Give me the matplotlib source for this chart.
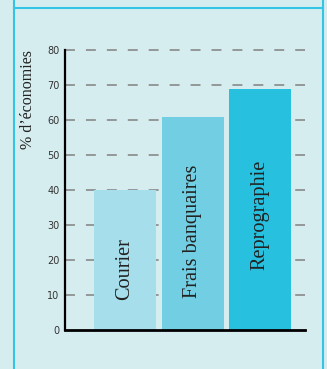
import matplotlib
matplotlib.use("Agg")
import matplotlib.pyplot as plt
from matplotlib.lines import Line2D

# data
categories = ["Courier", "Frais banquaires", "Reprographie"]
savings = [40, 61, 69]
bar_colors = ["#a6deec", "#72cfe3", "#27c0de"]
yticks = [0, 10, 20, 30, 40, 50, 60, 70, 80]

bg = "#d6edf0"
edge = "#33c6e4"

fig = plt.figure(figsize=(3.27, 3.69), dpi=100, facecolor=bg)
ax = fig.add_axes([0.199, 0.106, 0.734, 0.758])
ax.set_facecolor(bg)

x = range(len(categories))
ax.bar(x, savings, width=0.92, color=bar_colors, zorder=3)

# labels inside the bars, rotated
label_y = [8.6, 9.1, 17]
for i, name in enumerate(categories):
    ax.text(i, label_y[i], name, rotation=90, ha="center", va="bottom",
            family="Liberation Serif", fontsize=14.6, color="#222222", zorder=4)

ax.set_xlim(-0.889, 2.667)
ax.set_ylim(0, 80)
ax.set_yticks(yticks)
ax.set_yticklabels([str(t) for t in yticks], fontsize=7, color="#333333")
ax.tick_params(axis="y", length=0, pad=4)
ax.set_xticks([])

for t in yticks[1:]:
    ax.axhline(t, color="#808080", lw=1.1, dashes=(6.5, 7.2), zorder=1,
               clip_on=False)

for s in ["top", "right"]:
    ax.spines[s].set_visible(False)
ax.spines["left"].set_linewidth(1.6)
ax.spines["bottom"].set_linewidth(2)
ax.spines["left"].set_zorder(5)
ax.spines["bottom"].set_zorder(5)

fig.text(0.086, 0.729, "% d\u2019économies", rotation=90, ha="center",
         va="center", family="Liberation Serif", fontsize=11.5, color="#222222")

# frame around the panel
fig.add_artist(Line2D([14 / 327, 14 / 327], [0, 1], color=edge, lw=1.5))
fig.add_artist(Line2D([323 / 327, 323 / 327], [0, 1], color=edge, lw=1.5))
fig.add_artist(Line2D([14 / 327, 323 / 327], [1 - 8 / 369, 1 - 8 / 369],
                      color=edge, lw=1.5))

fig.savefig("out.png", dpi=100, facecolor=bg)
